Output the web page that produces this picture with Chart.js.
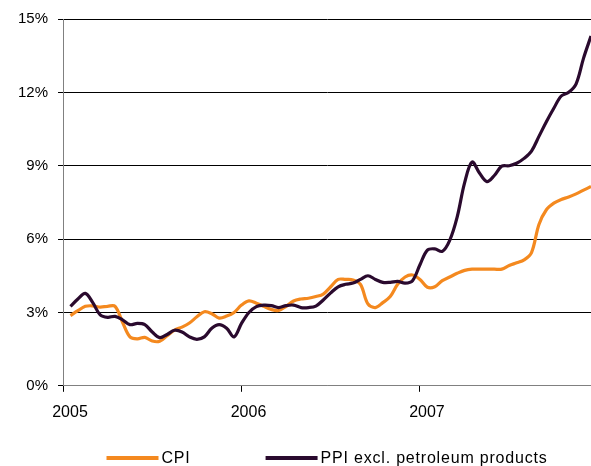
<!DOCTYPE html>
<html>
<head>
<meta charset="utf-8">
<script src="https://cdn.jsdelivr.net/npm/chart.js@4"></script>
<style>
  html, body { margin: 0; padding: 0; background: #fff; }
  #wrap { width: 591px; height: 466px; }
</style>
</head>
<body>
<div id="wrap"><canvas id="chart"></canvas></div>
<script>
// Twice-monthly readings, Jan 2005 - Dec 2007 (x = months since Jan 2005)
const months = [
  0.5, 1, 1.5, 2, 2.5, 3, 3.5, 4, 4.5, 5, 5.5, 6,
  6.5, 7, 7.5, 8, 8.5, 9, 9.5, 10, 10.5, 11, 11.5, 12,
  12.5, 13, 13.5, 14, 14.5, 15, 15.5, 16, 16.5, 17, 17.5, 18,
  18.5, 19, 19.5, 20, 20.5, 21, 21.5, 22, 22.5, 23, 23.5, 24,
  24.5, 25, 25.5, 26, 26.5, 27, 27.5, 28, 28.5, 29, 29.5, 30,
  30.5, 31, 31.5, 32, 32.5, 33, 33.5, 34, 34.5, 35, 35.5
];

const cpi = [
  2.87, 3.07, 3.25, 3.27, 3.22, 3.25, 3.25, 2.6, 2.0, 1.92, 1.98, 1.83,
  1.82, 2.05, 2.28, 2.4, 2.57, 2.82, 3.03, 2.95, 2.77, 2.85, 3.0, 3.3,
  3.47, 3.38, 3.25, 3.12, 3.08, 3.25, 3.47, 3.55, 3.58, 3.65, 3.75, 4.05,
  4.35, 4.35, 4.33, 4.15, 3.35, 3.2, 3.4, 3.65, 4.15, 4.45, 4.53, 4.35,
  4.03, 4.05, 4.3, 4.45, 4.6, 4.72, 4.77, 4.77, 4.77, 4.77, 4.77, 4.92,
  5.03, 5.15, 5.45, 6.6, 7.2, 7.47, 7.62, 7.72, 7.85, 8.0, 8.15
];

const ppiExPetroleum = [
  3.25, 3.55, 3.78, 3.4, 2.9, 2.8, 2.84, 2.7, 2.5, 2.55, 2.5, 2.2,
  1.97, 2.1, 2.27, 2.2, 2.0, 1.9, 2.0, 2.35, 2.5, 2.35, 2.0, 2.55,
  3.0, 3.24, 3.3, 3.28, 3.2, 3.28, 3.3, 3.2, 3.2, 3.26, 3.51, 3.8,
  4.05, 4.15, 4.2, 4.35, 4.5, 4.35, 4.23, 4.23, 4.27, 4.2, 4.3, 4.95,
  5.55, 5.6, 5.5, 5.95, 6.9, 8.3, 9.15, 8.7, 8.35, 8.6, 8.98, 9.0,
  9.1, 9.3, 9.6, 10.2, 10.8, 11.35, 11.85, 12.0, 12.35, 13.4, 14.3
];

const yearStarts = [0, 12, 24];
const yearLabels = ["2005", "2006", "2007"];
const seriesNames = ["CPI", "PPI excl. petroleum products"];
const seriesColors = ["#f4891f", "#2a0a2e"];

const toPoints = values => values.map((v, i) => ({ x: months[i], y: v }));

// Legend drawn as long line samples under the plot area
const lineLegend = {
  id: "lineLegend",
  afterDraw(chart, args, opts) {
    const ctx = chart.ctx;
    const area = chart.chartArea;
    ctx.save();
    ctx.font = opts.font;
    ctx.letterSpacing = opts.letterSpacing;
    ctx.textBaseline = "middle";
    const widths = chart.data.datasets.map(ds => opts.lineLength + opts.textGap + ctx.measureText(ds.label).width);
    const total = widths.reduce((a, b) => a + b, 0) + opts.itemGap * (widths.length - 1);
    let x = (area.left + area.right) / 2 - total / 2;
    chart.data.datasets.forEach((ds, i) => {
      ctx.strokeStyle = ds.borderColor;
      ctx.lineWidth = opts.lineWidth;
      ctx.beginPath();
      ctx.moveTo(x, opts.y);
      ctx.lineTo(x + opts.lineLength, opts.y);
      ctx.stroke();
      ctx.fillStyle = "#000";
      ctx.fillText(ds.label, x + opts.lineLength + opts.textGap, opts.y + 1);
      x += widths[i] + opts.itemGap;
    });
    ctx.restore();
  }
};

new Chart(document.getElementById("chart"), {
  type: "line",
  data: {
    datasets: [
      {
        label: seriesNames[0],
        data: toPoints(cpi),
        borderColor: seriesColors[0],
        order: 2
      },
      {
        label: seriesNames[1],
        data: toPoints(ppiExPetroleum),
        borderColor: seriesColors[1],
        order: 1
      }
    ]
  },
  options: {
    responsive: true,
    maintainAspectRatio: false,
    animation: false,
    events: [],
    layout: { padding: { left: 8, top: 15, right: 0, bottom: 33 } },
    elements: {
      line: { borderWidth: 3.2, tension: 0.35, fill: false },
      point: { radius: 0 }
    },
    scales: {
      x: {
        type: "linear",
        min: 0,
        max: 35.5,
        afterBuildTicks: axis => {
          axis.ticks = yearStarts.map(v => ({ value: v }));
        },
        grid: {
          drawOnChartArea: false,
          tickLength: 6,
          tickColor: "#000"
        },
        border: { color: "#808080", width: 1 },
        ticks: {
          font: { family: "'Liberation Sans', Arial, sans-serif", size: 16 },
          color: "#000",
          padding: 11,
          labelOffset: 7,
          maxRotation: 0,
          callback: value => yearLabels[yearStarts.indexOf(value)]
        }
      },
      y: {
        min: 0,
        max: 15,
        grid: {
          color: ctx => (ctx.tick.value === 0 ? "#808080" : "#000"),
          tickColor: "#000",
          tickLength: 5
        },
        border: { color: "#808080", width: 1 },
        ticks: {
          stepSize: 3,
          font: { family: "'Liberation Sans', Arial, sans-serif", size: 15 },
          color: "#000",
          padding: 10,
          callback: value => value + "%"
        }
      }
    },
    plugins: {
      legend: { display: false },
      tooltip: { enabled: false },
      lineLegend: {
        y: 458,
        lineLength: 52,
        lineWidth: 4,
        textGap: 3,
        itemGap: 75,
        letterSpacing: "0.8px",
        font: "16px 'Liberation Sans', Arial, sans-serif"
      }
    }
  },
  plugins: [lineLegend]
});
</script>
</body>
</html>
